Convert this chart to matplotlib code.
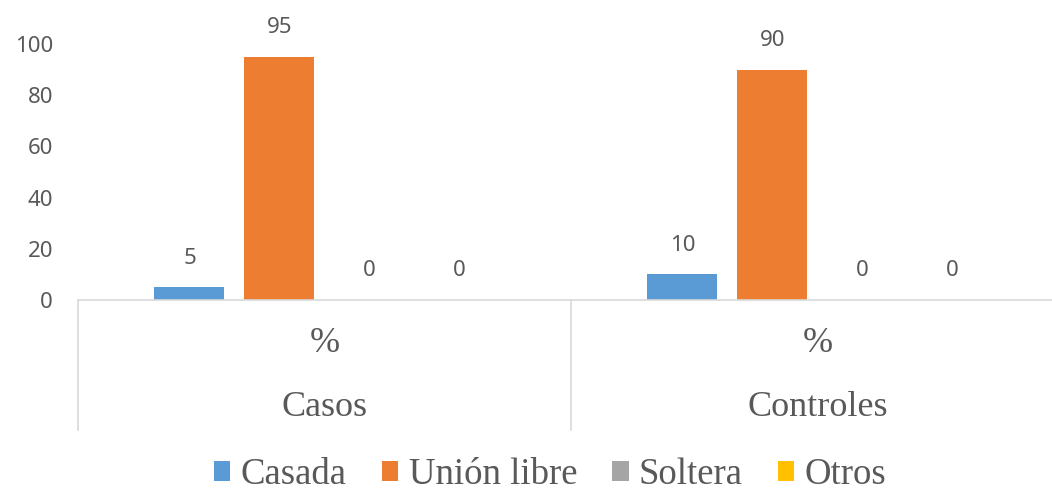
import matplotlib
matplotlib.use("Agg")
import matplotlib.pyplot as plt
from matplotlib.lines import Line2D
from matplotlib.patches import Patch
import numpy as np

# datos
grupos = ["Casos", "Controles"]
subetiqueta = "%"
series = ["Casada", "Unión libre", "Soltera", "Otros"]
casada = [5, 10]
union_libre = [95, 90]
soltera = [0, 0]
otros = [0, 0]
colores = ["#5B9BD5", "#ED7D31", "#A5A5A5", "#FFC000"]
yticks = [0, 20, 40, 60, 80, 100]

valores = [casada, union_libre, soltera, otros]
gris = "#595959"
serif = "Liberation Serif"
sans = "Noto Sans"

fig = plt.figure(figsize=(10.52, 4.91), dpi=100)
W, H = 1052, 491
# ejes: izquierda 78px, eje x en y=300px, 100 en y=44px
ax = fig.add_axes([78 / W, 1 - 300 / H, 986 / W, 256 / H])

x = np.arange(len(grupos))
paso = 0.1826
ancho = 0.142
for i, (nombre, vals, c) in enumerate(zip(series, valores, colores)):
    pos = x + (i - 1.5) * paso
    ax.bar(pos, vals, width=ancho, color=c, label=nombre)
    for p, v in zip(pos, vals):
        ax.annotate(str(v), (p, v), xytext=(0, 21), textcoords="offset points",
                    ha="center", va="center", fontsize=16, color=gris,
                    family=sans)

ax.set_xlim(-0.5, 1.5)
ax.set_ylim(0, 100)
ax.set_yticks(yticks)
ax.tick_params(axis="y", length=0, pad=18, labelsize=16, labelcolor=gris)
for lab in ax.get_yticklabels():
    lab.set_family(sans)
ax.set_xticks([])

for s in ["top", "right", "left"]:
    ax.spines[s].set_visible(False)
ax.spines["bottom"].set_color("#D9D9D9")
ax.spines["bottom"].set_linewidth(1.2)

# eje de categorias de dos niveles
trans = ax.get_xaxis_transform()
for xi, g in zip(x, grupos):
    ax.text(xi, -0.168, subetiqueta, transform=trans, ha="center", va="center",
            fontsize=26, color=gris, family=serif)
    ax.text(xi, -0.42, g, transform=trans, ha="center", va="center",
            fontsize=26, color=gris, family=serif)
for b in [-0.5, 0.5, 1.5]:
    ax.add_line(Line2D([b, b], [0, -0.508], transform=trans, color="#D9D9D9",
                       linewidth=1.2, clip_on=False))

handles = [Patch(facecolor=c, edgecolor="none") for c in colores]
leg = fig.legend(handles, series, loc="center", bbox_to_anchor=(0.523, 1 - 475 / H),
                 ncol=4, frameon=False, handlelength=0.45, handleheight=0.45,
                 handletextpad=0.28, columnspacing=0.95,
                 prop={"family": serif, "size": 26.5})
for t in leg.get_texts():
    t.set_color(gris)

fig.savefig("out.png", dpi=100)
